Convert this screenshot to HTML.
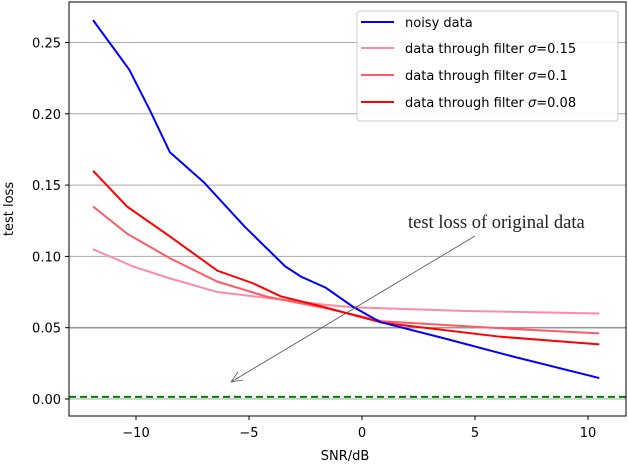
<!DOCTYPE html>
<html><head><meta charset="utf-8"><style>
body{margin:0;background:#fff}
svg{display:block;font-family:"DejaVu Sans","Liberation Sans",sans-serif}
</style></head><body>
<svg id="chart" width="628" height="464" viewBox="0 0 628 464" xmlns="http://www.w3.org/2000/svg">
<rect x="0" y="0" width="628" height="464" fill="#fff"/>
<g id="grid"></g>
<g id="series"></g>
<g id="axes"></g>
<line x1="475" y1="236" x2="231" y2="382" stroke="#555" stroke-width="0.8"/>
<path d="M231 382 L238 372 M231 382 L243 380" stroke="#555" stroke-width="0.8" fill="none"/>
<text x="408" y="228" font-family="Liberation Serif, serif" font-size="18.5" fill="#222">test loss of original data</text>
<g>
<rect x="357" y="11" width="261" height="110" rx="3" fill="#fff" fill-opacity="0.9" stroke="#ccc"/>
<line x1="361" y1="22" x2="394" y2="22" stroke="#0000ff" stroke-width="2"/>
<text x="405" y="27" font-size="13">noisy data</text>
<line x1="361" y1="48" x2="394" y2="48" stroke="#ff8aa5" stroke-width="2"/>
<text x="405" y="53" font-size="13">data through filter <tspan font-style="italic">σ</tspan>=0.15</text>
<line x1="361" y1="75" x2="394" y2="75" stroke="#ff5a66" stroke-width="2"/>
<text x="405" y="80" font-size="13">data through filter <tspan font-style="italic">σ</tspan>=0.1</text>
<line x1="361" y1="102" x2="394" y2="102" stroke="#ff0000" stroke-width="2"/>
<text x="405" y="107" font-size="13">data through filter <tspan font-style="italic">σ</tspan>=0.08</text>
</g>
</svg>
<script>
const xTicks=[-10,-5,0,5,10];
const yTicks=[0,0.05,0.10,0.15,0.20,0.25];
const yTickLabels=["0.00","0.05","0.10","0.15","0.20","0.25"];
const noisyX=[-11.9,-10.3,-9.4,-8.5,-7.0,-5.2,-3.4,-2.7,-1.6,-0.4,0.8,3.6,6.7,10.5];
const noisyY=[0.2657,0.231,0.203,0.173,0.152,0.121,0.093,0.0858,0.078,0.0647,0.054,0.0427,0.0297,0.0147];
const s008X=[-11.9,-10.4,-8.5,-6.4,-4.8,-3.6,-1.8,-0.4,0.9,6.1,10.5];
const s008Y=[0.160,0.135,0.114,0.090,0.081,0.072,0.065,0.059,0.0535,0.0437,0.0383];
const s01X=[-11.9,-10.4,-8.5,-6.4,-4.2,-1.6,0.9,6.1,10.5];
const s01Y=[0.135,0.116,0.0987,0.0823,0.0717,0.0636,0.0545,0.0496,0.046];
const s015X=[-11.9,-10.1,-8.5,-6.4,-1.6,-0.4,4.6,10.5];
const s015Y=[0.105,0.0928,0.0846,0.075,0.066,0.0643,0.0617,0.060];
const baseline=0.0015;

const L=69,R=626,T=2,B=416;
const xs=v=>362+v*22.6;
const ys=v=>399-v*1426;
const NS="http://www.w3.org/2000/svg";
function mk(tag,attrs,parent){const e=document.createElementNS(NS,tag);for(const k in attrs)e.setAttribute(k,attrs[k]);parent.appendChild(e);return e;}
const grid=document.getElementById('grid'),series=document.getElementById('series'),axes=document.getElementById('axes');
yTicks.forEach((v,i)=>{
  const g=mk('line',{x1:L,x2:R,y1:ys(v),y2:ys(v),stroke:i==1?'#999':'#aaa','stroke-width':i==1?1.6:1},grid);
  
  
  const t=mk('line',{x1:L-4,x2:L,y1:ys(v),y2:ys(v),stroke:'#000'},axes);
  const lb=mk('text',{x:L-8,y:ys(v)+5,'text-anchor':'end','font-size':13},axes);
  lb.textContent=yTickLabels[i];
  
  
});
xTicks.forEach(v=>{
  mk('line',{x1:xs(v),x2:xs(v),y1:B,y2:B+4,stroke:'#000'},axes);
  const lb=mk('text',{x:xs(v),y:B+21,'text-anchor':'middle','font-size':13},axes);
  lb.textContent=(v<0?'\u2212'+(-v):String(v));
  
  
});
const bl=mk('line',{x1:L,x2:R,y1:ys(baseline),y2:ys(baseline),stroke:'#008000','stroke-width':2,'stroke-dasharray':'7,4'},series);


function line(xa,ya,color,name){
  const p=mk('polyline',{points:xa.map((x,i)=>xs(x)+','+ys(ya[i])).join(' '),fill:'none',stroke:color,'stroke-width':2},series);
  
  
}
line(s015X,s015Y,'#ff8aa5','series-sigma-015');
line(s01X,s01Y,'#ff5a66','series-sigma-01');
line(s008X,s008Y,'#ff0000','series-sigma-008');
line(noisyX,noisyY,'#0000ff','series-noisy');
const fr=mk('rect',{x:L,y:T,width:R-L,height:B-T,fill:'none',stroke:'#000','stroke-width':1},axes);


const xt=mk('text',{x:345,y:460,'text-anchor':'middle','font-size':13},axes);
xt.textContent='SNR/dB';


const yt=mk('text',{x:13,y:209,'text-anchor':'middle','font-size':13,transform:'rotate(-90 13 209)'},axes);
yt.textContent='test loss';


</script>
</body></html>
